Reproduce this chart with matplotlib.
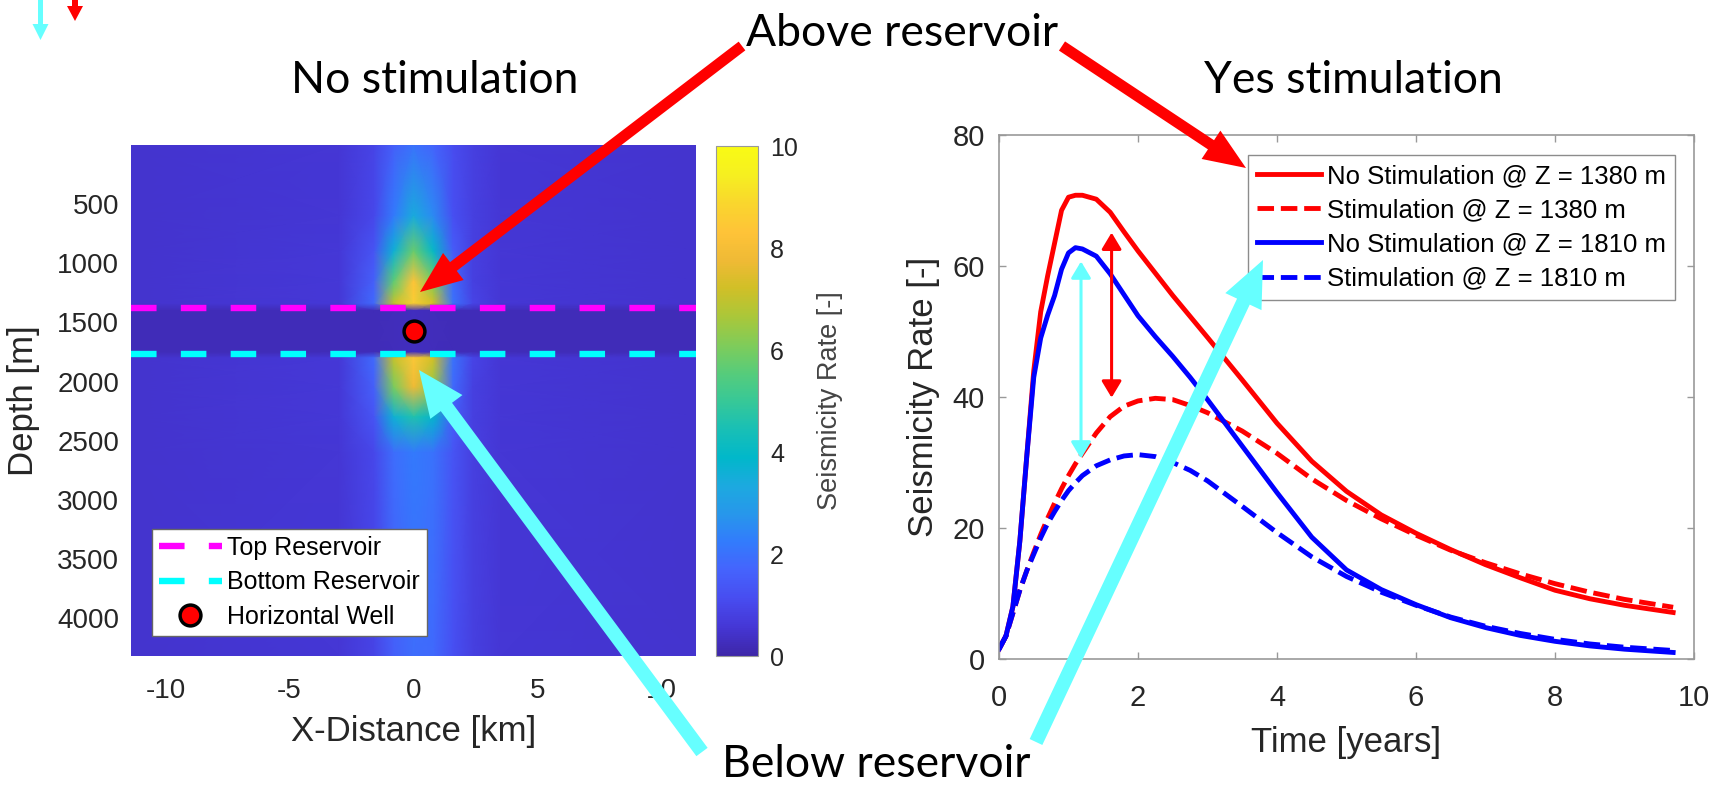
import numpy as np
import matplotlib
matplotlib.use("Agg")
import matplotlib.pyplot as plt
from matplotlib.colors import LinearSegmentedColormap
from matplotlib.patches import FancyArrow
from matplotlib.transforms import IdentityTransform

plt.rcParams['font.family'] = ['Liberation Sans', 'DejaVu Sans']
plt.rcParams['axes.unicode_minus'] = False

W, H = 1709, 785

# --- parula-like colormap ---
parula_nodes = [
    (0.2422, 0.1504, 0.6603), (0.2706, 0.2147, 0.8364), (0.2813, 0.3006, 0.9414),
    (0.2699, 0.3892, 0.9906), (0.1963, 0.4847, 0.9892), (0.1540, 0.5902, 0.9218),
    (0.1113, 0.6635, 0.8763), (0.0036, 0.7203, 0.7917), (0.0964, 0.7500, 0.7120),
    (0.2161, 0.7843, 0.5923), (0.3406, 0.8008, 0.4789), (0.5044, 0.7993, 0.3480),
    (0.6720, 0.7793, 0.2227), (0.8203, 0.7498, 0.1535), (0.9393, 0.7288, 0.2100),
    (0.9970, 0.7659, 0.2199), (0.9786, 0.8386, 0.1766), (0.9628, 0.9373, 0.1265),
    (0.9769, 0.9839, 0.0805),
]
parula = LinearSegmentedColormap.from_list("parula", parula_nodes)

# --- seismicity rate section (no stimulation) ---
hm_x = [-11.4, -3.0, -1.6, -0.8, 0.0, 0.8, 1.6, 2.4, 3.5, 11.4]          # km
hm_z = [0, 600, 900, 1150, 1340, 1400, 1750, 1800, 2050, 2300, 2600, 4320]  # m
hm_rate = [
    [0.5, 0.55, 0.9, 1.6, 2.0, 1.7, 1.1, 0.8, 0.55, 0.5],
    [0.5, 0.55, 1.0, 2.2, 3.4, 2.5, 1.2, 0.8, 0.55, 0.5],
    [0.5, 0.6, 1.3, 3.6, 5.8, 4.0, 1.5, 0.8, 0.55, 0.5],
    [0.5, 0.6, 1.6, 5.6, 8.3, 6.0, 1.8, 0.8, 0.55, 0.5],
    [0.5, 0.6, 1.8, 7.0, 8.6, 7.2, 2.0, 0.9, 0.55, 0.5],
    [0.2, 0.2, 0.2, 0.25, 0.3, 0.25, 0.2, 0.2, 0.2, 0.2],
    [0.2, 0.2, 0.2, 0.25, 0.3, 0.25, 0.2, 0.2, 0.2, 0.2],
    [0.5, 0.6, 1.8, 7.0, 8.4, 7.2, 2.0, 0.9, 0.55, 0.5],
    [0.5, 0.6, 1.6, 6.0, 7.8, 6.3, 1.8, 0.8, 0.55, 0.5],
    [0.5, 0.6, 1.3, 3.6, 4.6, 3.8, 1.5, 0.8, 0.55, 0.5],
    [0.5, 0.55, 1.0, 1.9, 2.2, 2.0, 1.3, 0.8, 0.55, 0.5],
    [0.5, 0.55, 0.9, 1.6, 1.9, 1.8, 1.2, 0.8, 0.55, 0.5],
]
top_reservoir = 1380
bottom_reservoir = 1765
well_x, well_z = 0.0, 1570

# --- seismicity rate vs time ---
t_years = [0, 0.1, 0.2, 0.3, 0.4, 0.5, 0.6, 0.7, 0.8, 0.9, 1.0, 1.1, 1.2, 1.4, 1.6, 1.8,
           2.0, 2.25, 2.5, 2.75, 3.0, 3.5, 4.0, 4.5, 5.0, 5.5, 6.0, 6.5, 7.0, 7.5,
           8.0, 8.5, 9.0, 9.7]
rate_nostim_1380 = [1.5, 3.5, 8, 18, 31, 44, 53, 58.5, 63.5, 68.5, 70.5, 70.8, 70.8, 70.2,
                    68.2, 65.2, 62.3, 58.9, 55.5, 52.3, 49.1, 42.6, 36.0, 30.2, 25.6, 22.0,
                    19.2, 16.7, 14.4, 12.4, 10.5, 9.2, 8.2, 7.1]
rate_stim_1380 = [1.5, 3.5, 7, 10.5, 13.5, 16.3, 19, 21.5, 23.8, 26, 28, 29.8, 31.4, 34.5,
                  37.0, 38.6, 39.4, 39.8, 39.6, 38.7, 37.6, 34.8, 31.4, 27.5, 24.2, 21.4,
                  18.9, 16.6, 14.7, 13.0, 11.5, 10.2, 9.1, 7.9]
rate_nostim_1810 = [1.5, 3.5, 8, 18, 31, 43, 49, 52.5, 55.5, 59.5, 62.0, 62.8, 62.6, 61.5,
                    58.8, 55.6, 52.4, 49.2, 46.2, 43.0, 39.6, 32.5, 25.4, 18.6, 13.6, 10.6,
                    8.3, 6.3, 4.8, 3.6, 2.7, 2.0, 1.5, 1.0]
rate_stim_1810 = [1.5, 3.5, 7, 10.5, 13.5, 16.0, 18.5, 20.7, 22.5, 24.2, 25.7, 26.9, 28.0,
                  29.5, 30.4, 31.0, 31.2, 30.9, 30.0, 28.8, 27.2, 23.3, 19.3, 15.6, 12.6,
                  10.2, 8.2, 6.4, 5.0, 3.9, 3.0, 2.3, 1.8, 1.3]

# gap markers between curves (time, upper, lower)
gap_1380 = (1.62, 65.1, 39.9)
gap_1810 = (1.18, 60.7, 30.6)

CYAN = (0.4, 1.0, 1.0)
TXT = '#262626'

fig = plt.figure(figsize=(W / 100, H / 100), dpi=100)
ax1 = fig.add_axes([131 / W, (H - 656) / H, 565 / W, 511 / H])
cax = fig.add_axes([716 / W, (H - 656) / H, 42 / W, 510 / H])
ax2 = fig.add_axes([999 / W, (H - 659) / H, 695 / W, 524 / H])

# left panel
mesh = ax1.pcolormesh(hm_x, hm_z, np.array(hm_rate), shading='gouraud',
                      cmap=parula, vmin=0, vmax=10)
ax1.axhline(top_reservoir, color=(1, 0, 1), lw=4.6, dashes=(4, 3.8),
            label='Top Reservoir')
ax1.axhline(bottom_reservoir, color=(0, 1, 1), lw=4.6, dashes=(4, 3.8),
            label='Bottom Reservoir')
ax1.plot([well_x], [well_z], 'o', ms=15, mfc='red', mec='black', mew=2.5,
         ls='none', label='Horizontal Well')
ax1.set_xlim(-11.4, 11.4)
ax1.set_ylim(4320, 0)
ax1.set_xticks([-10, -5, 0, 5, 10])
ax1.set_yticks(range(500, 4001, 500))
ax1.tick_params(direction='in', length=0, labelsize=20, colors=TXT)
ax1.tick_params(axis='x', pad=16)
ax1.tick_params(axis='y', pad=8.6)
ax1.set_xlabel('X-Distance [km]', fontsize=25, color=TXT, labelpad=8)
ax1.set_ylabel('Depth [m]', fontsize=25, color=TXT, labelpad=12)
for s in ax1.spines.values():
    s.set_visible(False)
leg1 = ax1.legend(loc='lower left', bbox_to_anchor=(0.037, 0.039), fontsize=18,
                  handlelength=2.5, handletextpad=0.2, labelspacing=0.42,
                  borderpad=0.29, borderaxespad=0, fancybox=False,
                  edgecolor='0.4', framealpha=1)
leg1.get_frame().set_linewidth(1)

cb = fig.colorbar(mesh, cax=cax, ticks=range(0, 11, 2))
cb.outline.set_edgecolor('0.6')
cb.ax.tick_params(direction='in', length=0, labelsize=18, colors=TXT, pad=8.6)
cb.set_label('Seismicity Rate [-]', fontsize=19.5, color='#444444', labelpad=14)

# right panel
lw = 3.5
ax2.plot(t_years, rate_nostim_1380, color='red', lw=lw,
         label='No Stimulation @ Z = 1380 m')
ax2.plot(t_years, rate_stim_1380, color='red', lw=lw, dashes=(3.4, 1.4),
         label='Stimulation @ Z = 1380 m')
ax2.plot(t_years, rate_nostim_1810, color='blue', lw=lw,
         label='No Stimulation @ Z = 1810 m')
ax2.plot(t_years, rate_stim_1810, color='blue', lw=lw, dashes=(3.4, 1.4),
         label='Stimulation @ Z = 1810 m')
ax2.set_xlim(0, 10)
ax2.set_ylim(0, 80)
ax2.set_xticks(range(0, 11, 2))
ax2.set_yticks(range(0, 81, 20))
ax2.tick_params(direction='in', length=5, width=1, labelsize=21, colors='0.6',
                labelcolor=TXT, top=True, right=True)
ax2.tick_params(axis='x', pad=18)
ax2.tick_params(axis='y', pad=10)
for s in ax2.spines.values():
    s.set_edgecolor('0.6')
    s.set_linewidth(1.2)
ax2.set_xlabel('Time [years]', fontsize=25, color=TXT, labelpad=10)
ax2.set_ylabel('Seismicity Rate [-]', fontsize=25, color=TXT, labelpad=9)
leg2 = ax2.legend(loc='upper right', bbox_to_anchor=(0.973, 0.962), fontsize=18.5,
                  handlelength=2.5, handletextpad=0.25, labelspacing=0.4,
                  borderpad=0.35, borderaxespad=0, fancybox=False,
                  edgecolor='0.55', framealpha=1)
leg2.get_frame().set_linewidth(1)

for (t, hi, lo), col in [(gap_1380, 'red'), (gap_1810, CYAN)]:
    ax2.annotate('', xy=(t, hi), xytext=(t, lo),
                 arrowprops=dict(arrowstyle='<|-|>,head_length=0.5,head_width=0.3',
                                 color=col, lw=2.2, shrinkA=0, shrinkB=0,
                                 mutation_scale=20))

# callout text and arrows (figure pixels, y measured from the top)
def fig_text(x, y, s):
    fig.text(x / W, 1 - y / H, s, fontsize=32, family=['Lato', 'DejaVu Sans'],
             ha='center', va='baseline', color='black')

fig_text(435, 93, 'No stimulation')
fig_text(1353, 93, 'Yes stimulation')
fig_text(902, 46, 'Above reservoir')
fig_text(876, 777, 'Below reservoir')

def fig_arrow(x0, y0, x1, y1, color, width, head_w, head_l):
    arr = FancyArrow(x0, H - y0, x1 - x0, -(y1 - y0), width=width,
                     head_width=head_w, head_length=head_l,
                     length_includes_head=True, color=color, lw=0,
                     transform=IdentityTransform())
    fig.add_artist(arr)

fig_arrow(742, 46, 420, 292, 'red', 11, 34, 42)
fig_arrow(1062, 46, 1246, 168, 'red', 11, 34, 42)
fig_arrow(702, 752, 419, 370, CYAN, 14, 40, 46)
fig_arrow(1036, 742, 1263, 260, CYAN, 14, 40, 46)
fig_arrow(40.5, 0, 40.5, 40, CYAN, 5, 16, 16)
fig_arrow(75, 0, 75, 21, 'red', 6, 16, 15)

fig.savefig('out.png', dpi=100)
